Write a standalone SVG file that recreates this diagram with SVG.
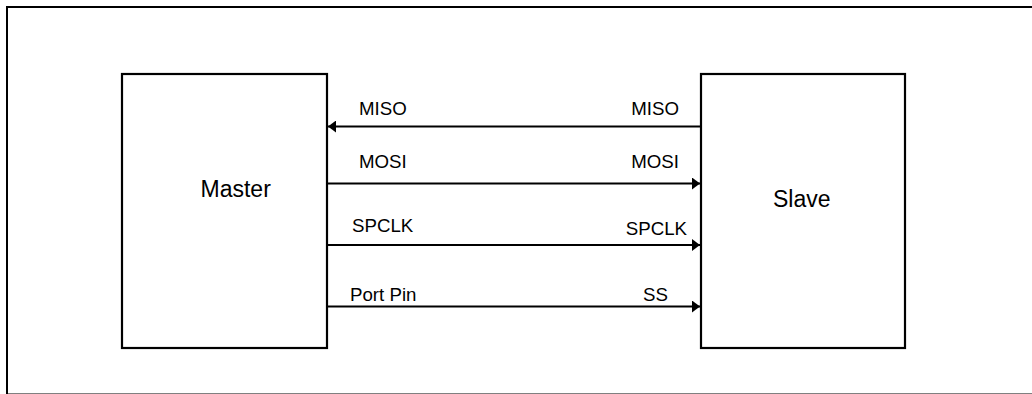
<svg xmlns="http://www.w3.org/2000/svg" width="1032" height="394" viewBox="0 0 1032 394">
<style>
.box{fill:#fff;stroke:#000;stroke-width:2.2}
.line{stroke:#000;stroke-width:2.2;fill:none}
.lbl{font-family:"Liberation Sans",Arial,sans-serif;font-size:18.7px;fill:#000}
.big{font-family:"Liberation Sans",Arial,sans-serif;font-size:23px;fill:#000}
</style>
<defs>
<marker id="ah" viewBox="0 0 8 12" refX="8" refY="6" markerWidth="8" markerHeight="12" markerUnits="userSpaceOnUse" orient="auto">
<path d="M0,0 L8,6 L0,12 Z" fill="#000"/>
</marker>
</defs>
<rect x="0" y="0" width="1032" height="394" fill="#fff"/>
<rect id="frame" x="7" y="7" width="1040" height="387.5" fill="none" stroke="#000" stroke-width="2"/>
<g id="master">
<rect class="box" x="122" y="74" width="205" height="274"/>
<text class="big" x="200.5" y="196.5">Master</text>
</g>
<g id="slave">
<rect class="box" x="701" y="74" width="204" height="274"/>
<text class="big" x="773" y="206.5">Slave</text>
</g>
<g id="connectors">
<line class="line" x1="701" y1="126.5" x2="328" y2="126.5" marker-end="url(#ah)"/>
<line class="line" x1="327" y1="183.5" x2="700" y2="183.5" marker-end="url(#ah)"/>
<line class="line" x1="327" y1="245" x2="700" y2="245" marker-end="url(#ah)"/>
<line class="line" x1="327" y1="306.5" x2="700" y2="306.5" marker-end="url(#ah)"/>
<text class="lbl" x="359" y="115">MISO</text>
<text class="lbl" x="679" y="115" text-anchor="end">MISO</text>
<text class="lbl" x="359" y="167.5">MOSI</text>
<text class="lbl" x="679" y="167.5" text-anchor="end">MOSI</text>
<text class="lbl" x="352" y="231.5">SPCLK</text>
<text class="lbl" x="687" y="235" text-anchor="end">SPCLK</text>
<text class="lbl" x="350" y="300.5">Port Pin</text>
<text class="lbl" x="668" y="300.5" text-anchor="end">SS</text>
</g>
</svg>
